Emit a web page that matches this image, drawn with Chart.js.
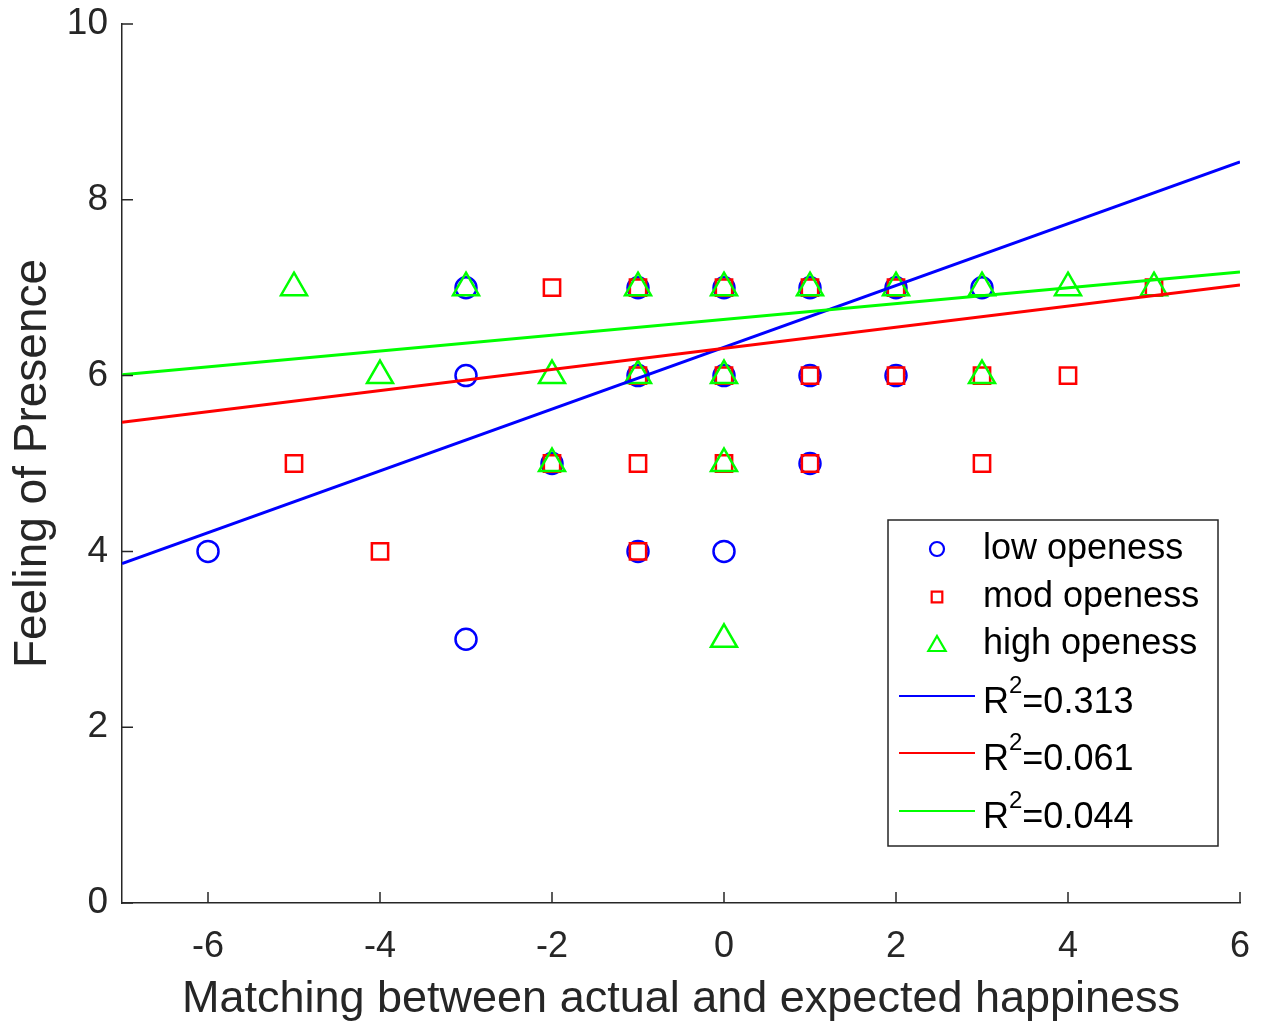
<!DOCTYPE html>
<html>
<head>
<meta charset="utf-8">
<script src="https://cdn.jsdelivr.net/npm/chart.js@4.4.1/dist/chart.umd.min.js"></script>
<style>
  html, body { margin: 0; padding: 0; background: #fff; }
  canvas { display: block; }
</style>
</head>
<body>
<canvas id="chart" width="1266" height="1023"></canvas>
<script>
// --- DADOS ---
const lowX  = [-6, -3, -3, -3, -2, -1, -1, -1, 0, 0, 0, 1, 1, 1, 2, 2, 3];
const lowY  = [ 4,  7,  6,  3,  5,  7,  6,  4, 7, 6, 4, 7, 6, 5, 7, 6, 7];
const modX  = [-5, -4, -2, -2, -1, -1, -1, -1, 0, 0, 0, 1, 1, 1, 2, 2, 3, 3, 4, 5];
const modY  = [ 5,  4,  7,  5,  7,  6,  5,  4, 7, 6, 5, 7, 6, 5, 7, 6, 6, 5, 6, 7];
const highX = [-5, -4, -3, -2, -2, -1, -1, 0, 0, 0, 0, 1, 2, 3, 3, 4, 5];
const highY = [ 7,  6,  7,  6,  5,  7,  6, 7, 6, 5, 3, 7, 7, 7, 6, 7, 7];

// retas de regressão (extremos)
const fitX     = [-7, 6];
const lowFitY  = [3.86, 8.43];
const modFitY  = [5.47, 7.03];
const highFitY = [6.01, 7.18];

const seriesNames = ['low openess', 'mod openess', 'high openess'];
const r2Values = ['0.313', '0.061', '0.044'];
const xTicks = [-6, -4, -2, 0, 2, 4, 6];
const yTicks = [0, 2, 4, 6, 8, 10];

// --- ESTILO ---
const AXIS = '#262626';
const FONT = '"Liberation Sans", Arial, Helvetica, sans-serif';
const BLUE = '#0000ff', RED = '#ff0000', GREEN = '#00ff00';

function toPoints(xs, ys) {
    return xs.map((x, i) => ({ x: x, y: ys[i] }));
}

function marker(ctx, style, x, y, r) {
    ctx.beginPath();
    if (style === 'circle') {
        ctx.arc(x, y, r, 0, Math.PI * 2);
    } else if (style === 'rect') {
        const s = r * Math.SQRT1_2;
        ctx.rect(x - s, y - s, 2 * s, 2 * s);
    } else {
        for (let k = 0; k < 3; k++) {
            const a = k * 2 * Math.PI / 3;
            const px = x + Math.sin(a) * r, py = y - Math.cos(a) * r;
            k === 0 ? ctx.moveTo(px, py) : ctx.lineTo(px, py);
        }
        ctx.closePath();
    }
    ctx.stroke();
}

// marcas de escala para dentro (estilo MATLAB)
const innerTicks = {
    id: 'innerTicks',
    afterDatasetsDraw(chart) {
        const ctx = chart.ctx, a = chart.chartArea;
        const xs = chart.scales.x, ys = chart.scales.y;
        ctx.save();
        ctx.strokeStyle = AXIS;
        ctx.lineWidth = 1.5;
        ctx.beginPath();
        xTicks.forEach(v => {
            const px = xs.getPixelForValue(v);
            ctx.moveTo(px, a.bottom);
            ctx.lineTo(px, a.bottom - 11);
        });
        yTicks.forEach(v => {
            const py = ys.getPixelForValue(v);
            ctx.moveTo(a.left, py);
            ctx.lineTo(a.left + 11, py);
        });
        ctx.stroke();
        ctx.restore();
    }
};

// legenda dentro da área do gráfico
const legendBox = {
    id: 'legendBox',
    afterDraw(chart) {
        const ctx = chart.ctx, a = chart.chartArea;
        const bx = a.right - 352, by = a.top + 496, bw = 330, bh = 326;
        ctx.save();
        ctx.fillStyle = '#fff';
        ctx.fillRect(bx, by, bw, bh);
        ctx.strokeStyle = AXIS;
        ctx.lineWidth = 1.5;
        ctx.strokeRect(bx, by, bw, bh);

        const rows = [29, 77, 124, 183, 240, 298];
        const colors = [BLUE, RED, GREEN];
        const styles = ['circle', 'rect', 'triangle'];
        const radii = [7, 7.5, 10];
        const tx = bx + 95;
        ctx.textBaseline = 'middle';
        ctx.textAlign = 'left';

        for (let i = 0; i < 3; i++) {
            const y = by + rows[i];
            ctx.strokeStyle = colors[i];
            ctx.lineWidth = 2.2;
            marker(ctx, styles[i], bx + 49, y + (i === 2 ? 2 : 0), radii[i]);
            ctx.fillStyle = '#000';
            ctx.font = '36px ' + FONT;
            ctx.fillText(seriesNames[i], tx, y);
        }
        for (let i = 0; i < 3; i++) {
            const y = by + rows[i + 3];
            ctx.strokeStyle = colors[i];
            ctx.lineWidth = 2;
            ctx.beginPath();
            ctx.moveTo(bx + 11, y - 7);
            ctx.lineTo(bx + 87, y - 7);
            ctx.stroke();
            ctx.fillStyle = '#000';
            ctx.font = '36px ' + FONT;
            let x = tx;
            ctx.fillText('R', x, y);
            x += ctx.measureText('R').width;
            ctx.font = '24px ' + FONT;
            ctx.fillText('2', x, y - 17);
            x += ctx.measureText('2').width;
            ctx.font = '36px ' + FONT;
            ctx.fillText('=' + r2Values[i], x, y);
        }
        ctx.restore();
    }
};

const scatterBase = { showLine: false, borderWidth: 2.5, pointBackgroundColor: 'rgba(0,0,0,0)', backgroundColor: 'rgba(0,0,0,0)' };
const lineBase = { showLine: true, pointRadius: 0, borderWidth: 3, fill: false, tension: 0 };

new Chart(document.getElementById('chart'), {
    type: 'scatter',
    data: {
        datasets: [
            Object.assign({ label: seriesNames[0], data: toPoints(lowX, lowY), borderColor: BLUE, pointStyle: 'circle', pointRadius: 10.5, order: 6 }, scatterBase),
            Object.assign({ label: seriesNames[1], data: toPoints(modX, modY), borderColor: RED, pointStyle: 'rect', pointRadius: 11.5, order: 5 }, scatterBase),
            Object.assign({ label: seriesNames[2], data: toPoints(highX, highY), borderColor: GREEN, pointStyle: 'triangle', pointRadius: 15, order: 4 }, scatterBase),
            Object.assign({ label: 'R2=' + r2Values[0], data: toPoints(fitX, lowFitY), borderColor: BLUE, order: 3 }, lineBase),
            Object.assign({ label: 'R2=' + r2Values[1], data: toPoints(fitX, modFitY), borderColor: RED, order: 2 }, lineBase),
            Object.assign({ label: 'R2=' + r2Values[2], data: toPoints(fitX, highFitY), borderColor: GREEN, order: 1 }, lineBase)
        ]
    },
    options: {
        responsive: false,
        animation: false,
        events: [],
        layout: { padding: { left: 0, right: 26, top: 24, bottom: 0 } },
        plugins: {
            legend: { display: false },
            tooltip: { enabled: false }
        },
        scales: {
            x: {
                type: 'linear',
                min: -7, max: 6,
                afterBuildTicks: s => { s.ticks = xTicks.map(v => ({ value: v })); },
                afterFit: s => { s.height = 120; s.paddingLeft = 0; s.paddingRight = 0; },
                grid: { display: false, drawTicks: false },
                border: { display: true, color: AXIS, width: 1.5 },
                ticks: { color: AXIS, padding: 22, maxRotation: 0, font: { family: FONT, size: 36 } },
                title: { display: true, text: 'Matching between actual and expected happiness', color: AXIS, padding: { top: 0, bottom: -4 }, font: { family: FONT, size: 45 } }
            },
            y: {
                type: 'linear',
                min: 0, max: 10,
                afterBuildTicks: s => { s.ticks = yTicks.map(v => ({ value: v })); },
                afterFit: s => { s.width = 122; s.paddingTop = 0; s.paddingBottom = 0; },
                grid: { display: false, drawTicks: false },
                border: { display: true, color: AXIS, width: 1.5 },
                ticks: { color: AXIS, padding: 14, font: { family: FONT, size: 37 } },
                title: { display: true, text: 'Feeling of Presence', color: AXIS, padding: { top: 6, bottom: 0 }, font: { family: FONT, size: 46 } }
            }
        }
    },
    plugins: [innerTicks, legendBox]
});
</script>
</body>
</html>
